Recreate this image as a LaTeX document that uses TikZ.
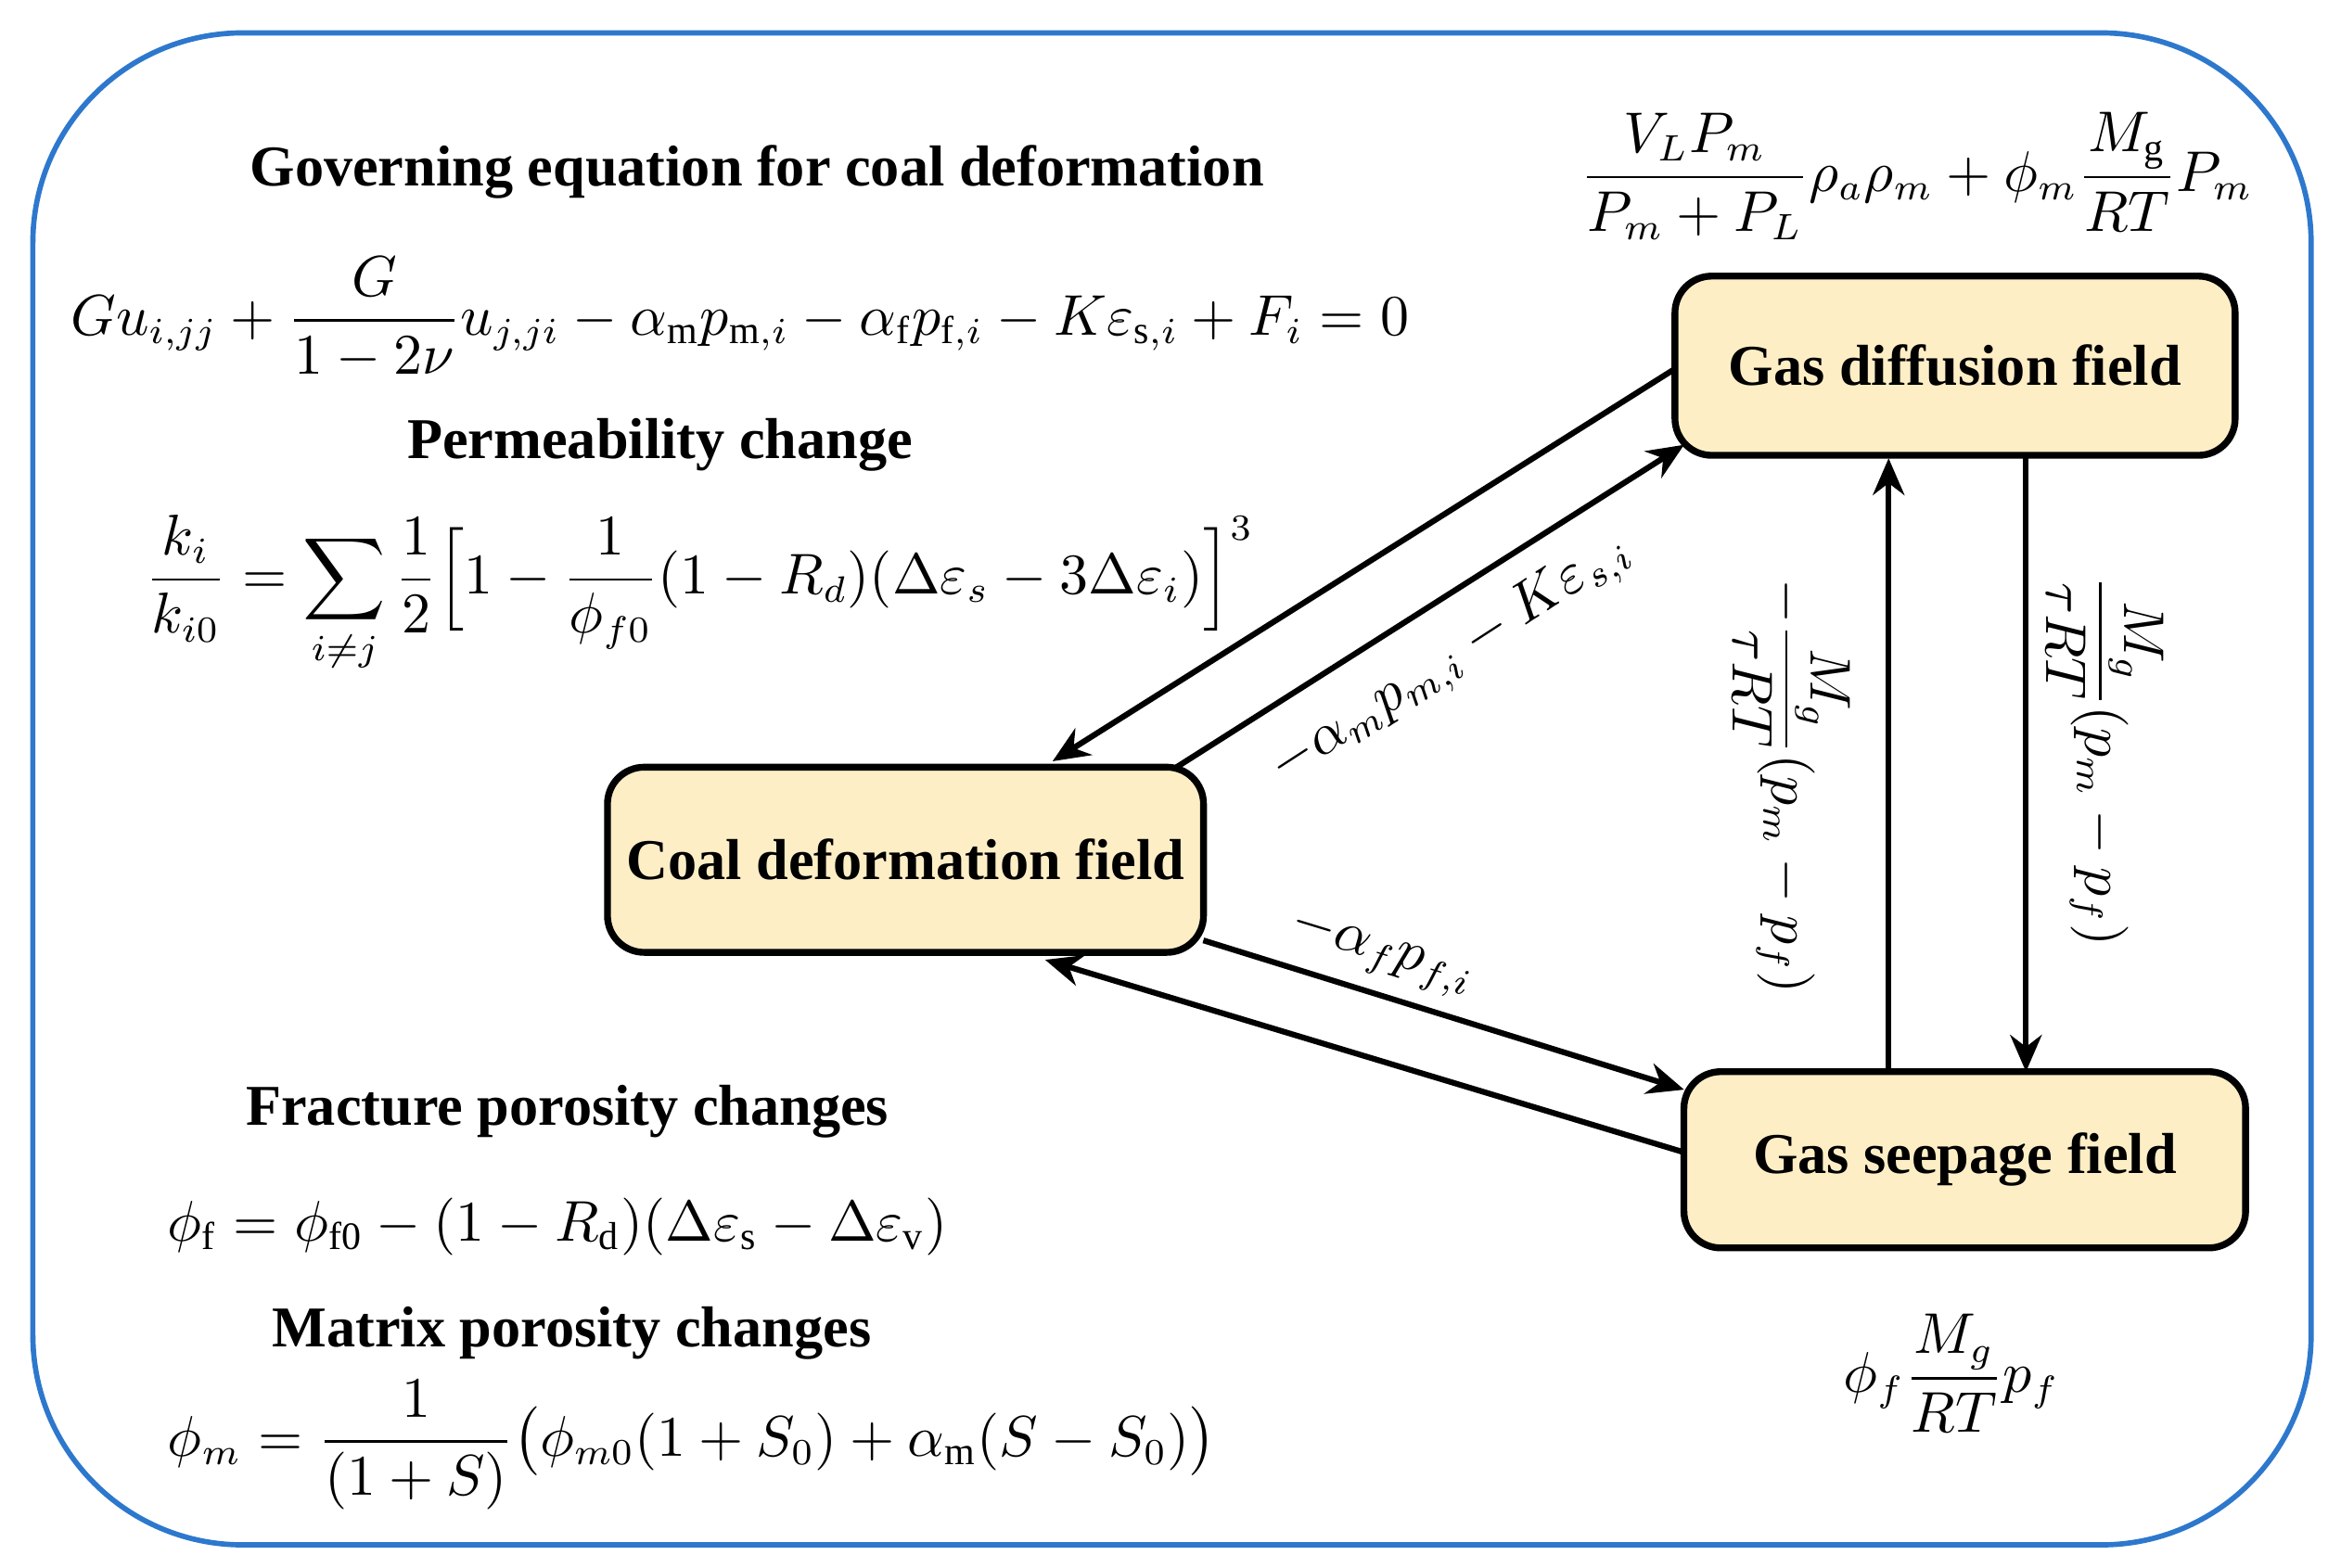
\documentclass[tikz,border=0pt]{standalone}
\usepackage{amsmath}
\usepackage{fontspec}
\setmainfont{Liberation Serif}
\usetikzlibrary{arrows.meta}
\definecolor{frame}{RGB}{45,120,205}
\definecolor{boxfill}{RGB}{253,238,198}
\begin{document}
\begin{tikzpicture}[x=0.01cm,y=-0.01cm,
  every node/.style={font=\fontsize{11}{13}\selectfont},
  ttl/.style={font=\fontsize{11}{13}\selectfont\bfseries},
  eq/.style={font=\fontsize{10.6}{13}\selectfont},
  box/.style={draw=black,line width=1.3pt,fill=boxfill,rounded corners=7pt,font=\fontsize{11}{13}\selectfont\bfseries,inner sep=0pt},
  arr/.style={line width=1.1pt,-{Stealth[length=7pt,width=6pt]}}]
\useasboundingbox (0,0) rectangle (1568,1050);
\draw[frame,line width=1pt,rounded corners=40pt] (22,22) rectangle (1548,1035);

\node[ttl] (t1) at (507,115) {Governing equation for coal deformation};
\node[eq,anchor=west] (e1) at (35,213) {$Gu_{i,jj}+\dfrac{G}{1-2\nu}u_{j,ji}-\alpha_{\mathrm{m}}p_{\mathrm{m},i}-\alpha_{\mathrm{f}}p_{\mathrm{f},i}-K\varepsilon_{\mathrm{s},i}+F_i=0$};
\node[ttl] (t2) at (442,298) {Permeability change};
\node[eq,anchor=west] (e2) at (85,398) {$\dfrac{k_i}{k_{i0}}=\displaystyle\sum_{i\neq j}\dfrac{1}{2}\Big[1-\dfrac{1}{\phi_{f0}}(1-R_d)(\Delta\varepsilon_s-3\Delta\varepsilon_i)\Big]^3$};
\node[ttl] (t3) at (380,745) {Fracture porosity changes};
\node[eq,anchor=west] (e3) at (100,822) {$\phi_{\mathrm{f}}=\phi_{\mathrm{f0}}-(1-R_{\mathrm{d}})(\Delta\varepsilon_{\mathrm{s}}-\Delta\varepsilon_{\mathrm{v}})$};
\node[ttl] (t4) at (383,893) {Matrix porosity changes};
\node[eq,anchor=west] (e4) at (100,968) {$\phi_m=\dfrac{1}{(1+S)}\big(\phi_{m0}(1+S_0)+\alpha_{\mathrm{m}}(S-S_0)\big)$};
\node[eq] (e5) at (1284,118) {$\dfrac{V_LP_m}{P_m+P_L}\rho_a\rho_m+\phi_m\dfrac{M_{\mathrm{g}}}{RT}P_m$};
\node[eq] (e6) at (1307,920) {$\phi_f\dfrac{M_g}{RT}p_f$};

\node[box,minimum width=3.75cm,minimum height=1.2cm] (gd) at (1309.5,245) {Gas diffusion field};
\node[box,minimum width=3.99cm,minimum height=1.24cm] (cd) at (606.5,576) {Coal deformation field};
\node[box,minimum width=3.76cm,minimum height=1.18cm] (gs) at (1316,777) {Gas seepage field};

\coordinate (a1s) at (1122,247); \coordinate (a1e) at (705,510);
\coordinate (a2s) at (788,514); \coordinate (a2e) at (1128,298);
\coordinate (a3s) at (806,630); \coordinate (a3e) at (1128,730);
\coordinate (a4s) at (1128,772); \coordinate (a4e) at (700,643);
\coordinate (a5s) at (1265,718); \coordinate (a5e) at (1265,307);
\coordinate (a6s) at (1357,307); \coordinate (a6e) at (1357,718);
\draw[arr] (a1s) -- (a1e);
\draw[arr] (a2s) -- (a2e);
\draw[arr] (a3s) -- (a3e);
\draw[arr] (a4s) -- (a4e);
\draw[arr] (a5s) -- (a5e);
\draw[arr] (a6s) -- (a6e);

\node[eq,rotate=33] (l1) at (972,442) {$-\alpha_mp_{m,i}-K\varepsilon_{s,i}$};
\node[eq,rotate=-17] (l2) at (926,638) {$-\alpha_fp_{f,i}$};
\node[eq,rotate=-90] (l3) at (1200,527) {$-\dfrac{M_g}{\tau RT}(p_m-p_f)$};
\node[eq,rotate=-90] (l4) at (1410,510) {$\dfrac{M_g}{\tau RT}(p_m-p_f)$};
\end{tikzpicture}
\end{document}
